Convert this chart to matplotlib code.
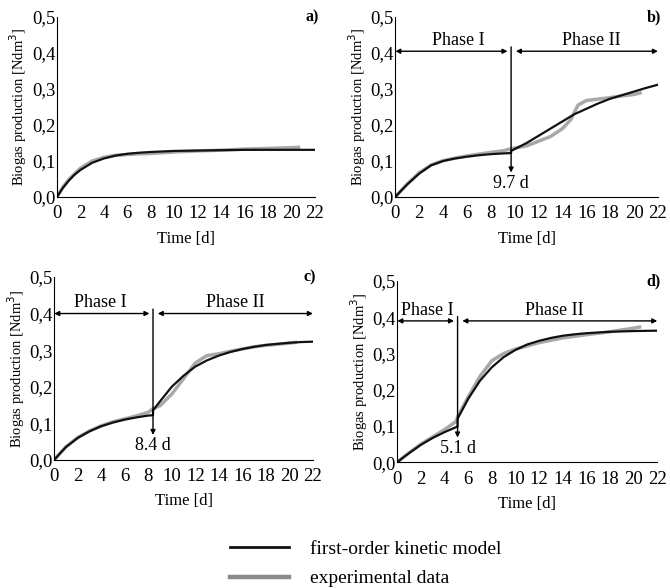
import numpy as np
import matplotlib.pyplot as plt
from matplotlib.lines import Line2D
from matplotlib.ticker import FuncFormatter

plt.rcParams['font.family'] = ['Liberation Serif', 'DejaVu Serif']

# Panel a) - single phase
a_t_model = [0, 0.5, 1, 1.5, 2, 3, 4, 5, 6, 7, 8, 10, 12, 14, 16, 18, 20, 22]
a_y_model = [0, 0.025, 0.045, 0.062, 0.075, 0.095, 0.107, 0.115, 0.120, 0.123,
             0.125, 0.128, 0.129, 0.130, 0.131, 0.131, 0.131, 0.131]
a_t_exp = [0, 0.5, 1, 2, 3, 4, 5, 6, 7, 8, 9, 10, 12, 14, 16, 18, 20, 20.6]
a_y_exp = [0, 0.027, 0.048, 0.080, 0.100, 0.110, 0.116, 0.118, 0.120, 0.121,
           0.123, 0.125, 0.128, 0.130, 0.133, 0.135, 0.137, 0.138]

# Panel b) - lag at 9.7 d
b_t1_model = [0, 0.5, 1, 2, 3, 4, 5, 6, 7, 8, 9, 9.7]
b_y1_model = [0, 0.018, 0.035, 0.065, 0.088, 0.100, 0.107, 0.112, 0.116, 0.119, 0.121, 0.122]
b_t2_model = [9.7, 11, 12, 13, 14, 15, 16, 17, 18, 19, 20, 21, 22]
b_y2_model = [0.128, 0.150, 0.170, 0.190, 0.210, 0.230, 0.245, 0.260, 0.273, 0.283, 0.293, 0.303, 0.312]
b_t_exp = [0, 1, 2, 3, 4, 5, 6, 7, 8, 9, 9.7, 10, 11, 12, 13, 14, 14.7, 15.3, 16, 17, 18, 19, 20, 20.5]
b_y_exp = [0, 0.036, 0.067, 0.089, 0.101, 0.108, 0.114, 0.119, 0.124, 0.128, 0.134, 0.136, 0.142,
           0.155, 0.168, 0.190, 0.215, 0.255, 0.268, 0.272, 0.276, 0.281, 0.285, 0.289]

# Panel c) - lag at 8.4 d
c_t1_model = [0, 0.5, 1, 2, 3, 4, 5, 6, 7, 8, 8.4]
c_y1_model = [0, 0.018, 0.035, 0.060, 0.078, 0.092, 0.102, 0.110, 0.116, 0.121, 0.122]
c_t2_model = [8.4, 9, 10, 11, 12, 13, 14, 15, 16, 17, 18, 19, 20, 21, 22]
c_y2_model = [0.135, 0.160, 0.200, 0.230, 0.255, 0.272, 0.285, 0.295, 0.303, 0.309, 0.314,
              0.317, 0.320, 0.322, 0.323]
c_t_exp = [0, 1, 2, 3, 4, 5, 6, 7, 8, 8.4, 9, 10, 11, 12, 13, 14, 15, 16, 17, 18, 19, 20, 20.5]
c_y_exp = [0, 0.036, 0.061, 0.079, 0.093, 0.104, 0.112, 0.120, 0.130, 0.140, 0.148, 0.180, 0.222,
           0.265, 0.285, 0.290, 0.297, 0.303, 0.309, 0.313, 0.316, 0.319, 0.321]

# Panel d) - lag at 5.1 d
d_t1_model = [0, 0.5, 1, 2, 3, 4, 5, 5.1]
d_y1_model = [0, 0.013, 0.025, 0.048, 0.067, 0.083, 0.097, 0.098]
d_t2_model = [5.1, 6, 7, 8, 9, 10, 11, 12, 13, 14, 15, 16, 18, 20, 22]
d_y2_model = [0.120, 0.175, 0.225, 0.262, 0.290, 0.310, 0.325, 0.335, 0.343, 0.349, 0.353,
              0.356, 0.360, 0.362, 0.363]
d_t_exp = [0, 1, 2, 3, 4, 5, 5.1, 6, 7, 8, 9, 10, 12, 14, 16, 18, 20, 20.5]
d_y_exp = [0, 0.026, 0.050, 0.070, 0.090, 0.113, 0.125, 0.180, 0.237, 0.280, 0.300, 0.312,
           0.330, 0.343, 0.352, 0.360, 0.370, 0.373]

# lag times and panel labels
lags = {'b': 9.7, 'c': 8.4, 'd': 5.1}
panel_names = ['a)', 'b)', 'c)', 'd)']
xticks = np.arange(0, 23, 2)
yticks = [0, 0.1, 0.2, 0.3, 0.4, 0.5]

fig = plt.figure(figsize=(6.70, 5.88), dpi=100)
boxes = [
    [0.085, 0.665, 0.385, 0.306],
    [0.590, 0.665, 0.392, 0.306],
    [0.081, 0.218, 0.386, 0.311],
    [0.593, 0.214, 0.388, 0.308],
]
axes = [fig.add_axes(b) for b in boxes]

exp_color = '#a8a8a8'
mod_color = '#111111'

comma = FuncFormatter(lambda v, p: f'{v:.1f}'.replace('.', ','))

for ax, name in zip(axes, panel_names):
    ax.set_xlim(0, 22)
    ax.set_ylim(0, 0.5)
    ax.set_xticks(xticks)
    ax.set_yticks(yticks)
    ax.yaxis.set_major_formatter(comma)
    ax.spines['top'].set_visible(False)
    ax.spines['right'].set_visible(False)
    ax.tick_params(length=0, labelsize=13.5)
    ax.tick_params(axis='x', pad=6)
    ax.tick_params(axis='y', pad=1)
    ax.set_xlabel('Time [d]', fontsize=12, labelpad=6)
    ax.set_ylabel('Biogas production [Ndm$^3$]', fontsize=10.5, labelpad=2)
    ax.text(22.3, 0.5, name, fontsize=11.5, fontweight='bold', ha='right', va='center')

ax = axes[0]
ax.plot(a_t_exp, a_y_exp, color=exp_color, lw=2.5)
ax.plot(a_t_model, a_y_model, color=mod_color, lw=1.6)

# (axis, exp t, exp y, model phase I t/y, model phase II t/y, lag, arrow y, phase I text x, phase II text x)
panel_data = [
    (axes[1], b_t_exp, b_y_exp, b_t1_model, b_y1_model, b_t2_model, b_y2_model, lags['b'], 0.405, 5.3, 16.4),
    (axes[2], c_t_exp, c_y_exp, c_t1_model, c_y1_model, c_t2_model, c_y2_model, lags['c'], 0.400, 3.9, 15.4),
    (axes[3], d_t_exp, d_y_exp, d_t1_model, d_y1_model, d_t2_model, d_y2_model, lags['d'], 0.390, 2.5, 13.3),
]

for ax, te, ye, t1, y1, t2, y2, lag, ya, x1, x2 in panel_data:
    ax.plot(te, ye, color=exp_color, lw=2.5)
    ax.plot(t1 + t2, y1 + y2, color=mod_color, lw=1.6)
    # phase arrows
    ax.annotate('', xy=(0, ya), xytext=(lag - 0.3, ya),
                arrowprops=dict(arrowstyle='<|-|>', color='black', lw=1.0,
                                mutation_scale=7, shrinkA=0, shrinkB=0))
    ax.annotate('', xy=(lag + 0.4, ya), xytext=(22, ya),
                arrowprops=dict(arrowstyle='<|-|>', color='black', lw=1.0,
                                mutation_scale=7, shrinkA=0, shrinkB=0))
    ax.text(x1, ya + 0.006, 'Phase I', fontsize=13, ha='center', va='bottom')
    ax.text(x2, ya + 0.006, 'Phase II', fontsize=13, ha='center', va='bottom')
    # lag marker
    ax.annotate('', xy=(lag, 0.068), xytext=(lag, ya + 0.012),
                arrowprops=dict(arrowstyle='-|>', color='black', lw=1.0,
                                mutation_scale=7, shrinkA=0, shrinkB=0))
    ax.text(lag, 0.038, f'{lag} d', fontsize=13, ha='center', va='center')

handles = [Line2D([], [], color=mod_color, lw=2.0),
           Line2D([], [], color='#8a8a8a', lw=3.2)]
fig.legend(handles, ['first-order kinetic model', 'experimental data'],
           loc='upper left', bbox_to_anchor=(0.332, 0.094), frameon=False,
           fontsize=14, handlelength=3.0, handletextpad=1.1, labelspacing=0.6,
           borderaxespad=0)

fig.savefig('out.png', dpi=100)
